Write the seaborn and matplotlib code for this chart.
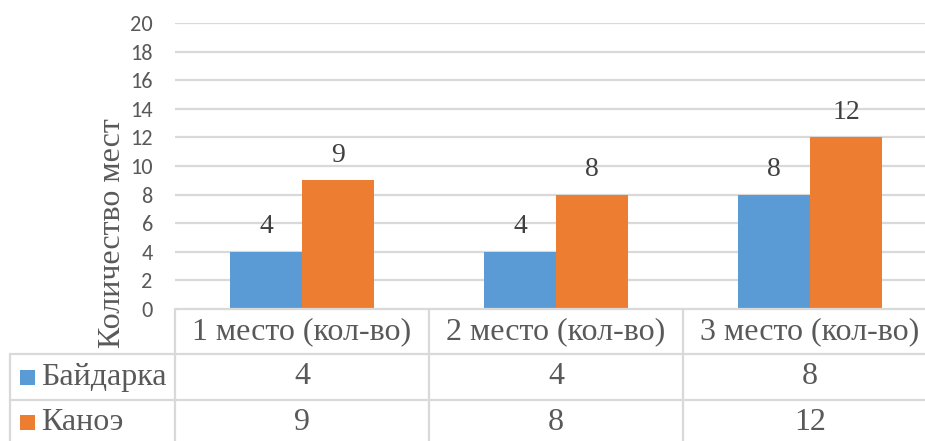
import matplotlib
matplotlib.use("Agg")
import matplotlib.pyplot as plt
import matplotlib.transforms as mtransforms
import pandas as pd
import seaborn as sns

# Data
categories = ["1 место (кол-во)", "2 место (кол-во)", "3 место (кол-во)"]
series_names = ["Байдарка", "Каноэ"]
kayak = [4, 4, 8]
canoe = [9, 8, 12]
y_ticks = [0, 2, 4, 6, 8, 10, 12, 14, 16, 18, 20]
y_label = "Количество мест"

colors = ["#5B9BD5", "#ED7D31"]
grid_color = "#D9D9D9"
text_color = "#595959"
label_color = "#404040"
serif = ["Liberation Serif", "FreeSerif", "DejaVu Serif"]
sans = ["Carlito", "Lato", "DejaVu Sans"]

df = pd.DataFrame({
    "category": categories * 2,
    "series": [series_names[0]] * 3 + [series_names[1]] * 3,
    "value": kayak + canoe,
})

sns.set_theme(style="white")
W, H = 925, 441
fig = plt.figure(figsize=(W / 100, H / 100), dpi=100)

def fx(px):
    return px / W

def fy(py):
    return 1 - py / H

ax_left, ax_right, ax_top, ax_bottom = 175, 925, 23, 309
cat_px = 254.0
ax = fig.add_axes([fx(ax_left), fy(ax_bottom), fx(ax_right - ax_left),
                   (ax_bottom - ax_top) / H])

sns.barplot(data=df, x="category", y="value", hue="series", order=categories,
            hue_order=series_names, palette=colors, width=0.567, gap=0,
            linewidth=0, saturation=1, legend=False, ax=ax)

ax.set_xlim(-0.5, -0.5 + (ax_right - ax_left) / cat_px)
ax.set_ylim(0, 20)
ax.set_yticks(y_ticks)
ax.set_yticklabels([str(t) for t in y_ticks], fontsize=16, color=text_color,
                   family=sans)
ax.tick_params(axis="y", length=0, pad=16)
ax.set_xticks([])
ax.set_xlabel("")
ax.set_ylabel("")
for s in ax.spines.values():
    s.set_visible(False)
for t in y_ticks[1:]:
    ax.axhline(t, color=grid_color, lw=1.6, zorder=0)
ax.set_axisbelow(True)

# value labels above bars
for container in ax.containers:
    ax.bar_label(container, labels=[f"{v:g}" for v in container.datavalues],
                 padding=9, fontsize=20, color=label_color, family=serif)

fig.text(fx(112), fy(233), y_label, rotation=90, ha="center", va="center",
         fontsize=23, color=text_color, family=serif)

# data table under the plot
blend = mtransforms.blended_transform_factory(ax.transData, fig.transFigure)
line_kw = dict(color=grid_color, lw=1.6, clip_on=False)
row_lines = [ax_bottom, 354, 400]
fig.add_artist(plt.Line2D([fx(ax_left), 1], [fy(row_lines[0])] * 2,
                          transform=fig.transFigure, **line_kw))
for r in row_lines[1:]:
    fig.add_artist(plt.Line2D([fx(10), 1], [fy(r)] * 2,
                              transform=fig.transFigure, **line_kw))
fig.add_artist(plt.Line2D([fx(10), fx(10)], [fy(354), 0],
                          transform=fig.transFigure, **line_kw))
for i in range(len(categories)):
    fig.add_artist(plt.Line2D([i - 0.5, i - 0.5], [fy(ax_bottom), 0],
                              transform=blend, **line_kw))

for i, cat in enumerate(categories):
    fig.text(i, fy(332), cat, transform=blend, ha="center", va="center",
             fontsize=23, color=text_color, family=serif)

row_centers = [377, 422]
for vals, name, col, yc in zip([kayak, canoe], series_names, colors, row_centers):
    fig.patches.append(plt.Rectangle((fx(20), fy(yc + 8)), fx(15), 15 / H,
                                     transform=fig.transFigure,
                                     facecolor=col, edgecolor="none"))
    fig.text(fx(41), fy(yc), name, ha="left", va="center", fontsize=23,
             color=text_color, family=serif)
    for i, v in enumerate(vals):
        fig.text(i, fy(yc), f"{v:g}", transform=blend, ha="center",
                 va="center", fontsize=23, color=text_color, family=serif)

fig.savefig("out.png", dpi=100)
